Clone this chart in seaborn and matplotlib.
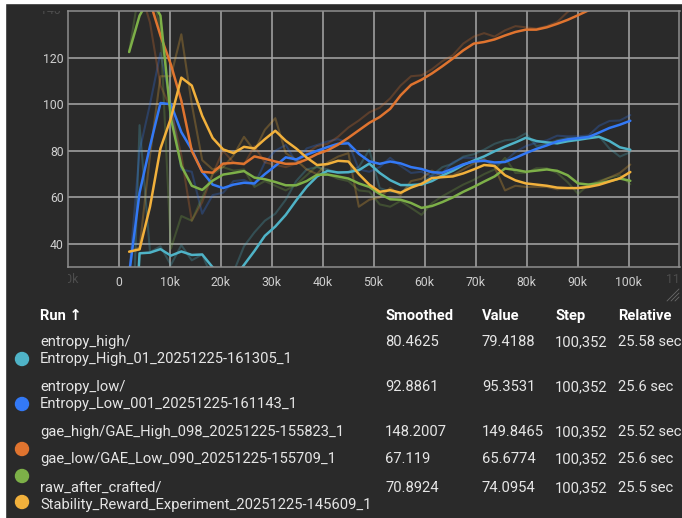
import pandas as pd
import numpy as np
import matplotlib
matplotlib.use('Agg')
import matplotlib.pyplot as plt
import seaborn as sns
from matplotlib.patches import Rectangle, Ellipse
from matplotlib.transforms import Bbox, TransformedBbox

sns.set_style('dark')
plt.rcParams['font.family'] = ['Roboto', 'DejaVu Sans']

# tensorboard export, steps logged every 2048
steps = [2048, 4096, 6144, 8192, 10240, 12288, 14336, 16384, 18432, 20480,
         22528, 24576, 26624, 28672, 30720, 32768, 34816, 36864, 38912, 40960,
         43008, 45056, 47104, 49152, 51200, 53248, 55296, 57344, 59392, 61440,
         63488, 65536, 67584, 69632, 71680, 73728, 75776, 77824, 79872, 81920,
         83968, 86016, 88064, 90112, 92160, 94208, 96256, 98304, 100352]

runs = ['entropy_high', 'entropy_low', 'gae_high', 'gae_low', 'raw_after_crafted']
colors = ['#4fb3c7', '#3379f6', '#e0742f', '#7db048', '#f2b13c']

# smoothed curves
ent_high_s = [-45, 36, 36.3, 37.8, 35, 36.8, 35.3, 35.5, 30, 26,
              25, 31, 37, 43.5, 47.5, 52.5, 58.7, 64.5, 69, 71.4,
              70.7, 70.8, 71.7, 74.5, 70.5, 67.4, 65.3, 65.3, 65.5, 67,
              69.4, 71.4, 73.9, 75.8, 77.6, 79.8, 81.8, 83.6, 85.6, 84.2,
              83.6, 83.2, 84.1, 84.7, 85.4, 86, 84.2, 81.5, 80.46]
ent_low_s = [27, 62, 82, 100.5, 100, 88, 80.5, 71, 65.5, 64,
             65.5, 66.3, 66, 70, 73.5, 77.2, 76.3, 78.3, 80, 81.6,
             83, 83.2, 78.7, 75.5, 74.4, 75.4, 74.6, 73, 72.2, 70.8,
             70.6, 72.3, 74.2, 75.4, 75.7, 75, 75.2, 77, 79, 80.8,
             82.3, 84, 84.9, 85.4, 85.9, 87.8, 89.8, 91.2, 92.89]
gae_high_s = [160, 152, 144, 129.5, 117, 101.5, 80, 71, 70.6, 74.5,
              74.8, 74.4, 77.6, 76.6, 75.4, 74.4, 74.5, 76.3, 78.6, 80.2,
              82.6, 85.6, 88.8, 92, 94.5, 98, 103.8, 108.3, 110.5, 113.2,
              116.3, 119.6, 123.1, 126, 126.7, 127.8, 129.5, 131, 132, 132,
              133, 134.5, 136.2, 138.2, 140.3, 142.5, 144.5, 146.4, 148.2]
gae_low_s = [122.4, 138, 146, 138, 94, 73.5, 65, 63.2, 67.2, 69.8,
             70.5, 71.3, 68.5, 67.8, 66.6, 65.2, 65.2, 67, 69.7, 69.8,
             69, 68.1, 66, 64.5, 61.5, 59.2, 59, 57.6, 55.5, 56.3,
             58, 60, 62.4, 64.5, 66.8, 69, 72.4, 71.8, 71, 71.5,
             72, 71.4, 69.5, 66, 65.5, 66, 67, 68.1, 67.12]
crafted_s = [36.7, 37.7, 56, 81, 94, 111.4, 108, 95, 85.5, 80.6,
             79, 81.7, 81, 85, 88.6, 84.3, 81, 77.1, 73.9, 74.3,
             75.7, 75.4, 70, 65.5, 62.4, 63.1, 62, 64.2, 65.8, 68.3,
             68.7, 69, 70.3, 72, 73.9, 73.5, 69.5, 67.3, 66, 65.5,
             65, 64.2, 64, 64, 64.5, 65.4, 66.8, 68.2, 70.89]

# raw curves
ent_high_r = [-45, 91, 36.5, 39, 31, 39.5, 33, 35.5, 25, 20,
              28, 39, 45, 50, 53, 59, 67, 72, 73, 72,
              70.5, 71, 73, 80.5, 64, 62.5, 62, 65.3, 66, 69.5,
              73, 74.5, 77.5, 78.5, 80.5, 83, 84.5, 85, 87.5, 82,
              83, 84.5, 85.5, 85.5, 86.2, 86.3, 81, 77.5, 79.42]
ent_low_r = [27, 80, 100, 122, 100, 72, 71, 53, 61, 62,
             67, 67.5, 65.3, 75, 80, 82.5, 75, 81, 82.5, 84,
             85, 83.5, 72, 71, 73, 77, 73.5, 70.5, 71, 69,
             70.5, 75, 77, 77, 76, 74, 75.5, 79.5, 82, 83.5,
             84.5, 86.5, 86.2, 86.2, 86.6, 90.7, 92.8, 93, 95.35]
gae_high_r = [160, 150, 135, 108, 98, 78, 50, 58, 70, 80,
              75, 74, 82, 75, 74, 73, 74.5, 79, 82, 83,
              86, 90, 93, 96.5, 98.5, 102.5, 108, 112, 112.4, 115,
              118.5, 121, 126, 129, 130.5, 129, 131.7, 133.5, 133, 132.4,
              133.5, 135.3, 139.6, 142, 143.5, 145, 147, 148.5, 149.85]
gae_low_r = [122.4, 150, 152, 132, 38, 52, 50, 60, 70, 73,
             71.5, 72, 64.5, 67, 65, 63, 65.5, 69.5, 73.5, 70,
             68, 67, 63, 62.5, 57, 56, 58.5, 55.5, 52.5, 57.5,
             60.5, 63, 65.5, 67.5, 70, 72, 77, 70.5, 70.5, 72.5,
             72.5, 70.5, 66.5, 61.5, 65.5, 67, 68.5, 69.5, 65.68]
crafted_r = [36.7, 38.5, 78, 112, 112, 130, 100, 76, 72, 73,
             78, 86, 80, 89, 94, 79, 76, 72, 70, 75,
             77.5, 79, 56, 59, 60, 64, 61, 67, 68, 71.5,
             69, 69.5, 72, 74.5, 76.5, 73, 63, 65, 64.5, 64.5,
             64.5, 63.5, 64, 64, 65, 66.5, 68.5, 70.5, 74.1]

# table under the chart
run_names = [['entropy_high/', 'Entropy_High_01_20251225-161305_1'],
             ['entropy_low/', 'Entropy_Low_001_20251225-161143_1'],
             ['gae_high/GAE_High_098_20251225-155823_1'],
             ['gae_low/GAE_Low_090_20251225-155709_1'],
             ['raw_after_crafted/', 'Stability_Reward_Experiment_20251225-145609_1']]
smoothed_col = ['80.4625', '92.8861', '148.2007', '67.119', '70.8924']
value_col = ['79.4188', '95.3531', '149.8465', '65.6774', '74.0954']
step_col = ['100,352', '100,352', '100,352', '100,352', '100,352']
relative_col = ['25.58 sec', '25.6 sec', '25.52 sec', '25.6 sec', '25.5 sec']

smooth_all = [ent_high_s, ent_low_s, gae_high_s, gae_low_s, crafted_s]
raw_all = [ent_high_r, ent_low_r, gae_high_r, gae_low_r, crafted_r]
df_s = pd.concat([pd.DataFrame({'run': r, 'step': steps, 'value': v}) for r, v in zip(runs, smooth_all)])
df_r = pd.concat([pd.DataFrame({'run': r, 'step': steps, 'value': v}) for r, v in zip(runs, raw_all)])
pal = dict(zip(runs, colors))

W, H = 682, 518
bg = '#2a2a2a'
fig = plt.figure(figsize=(W / 100, H / 100), dpi=100, facecolor=bg)
ax_l, ax_r, ax_t, ax_b = 67.7, 679.5, 11, 267.3
ax = fig.add_axes([ax_l / W, 1 - ax_b / H, (ax_r - ax_l) / W, (ax_b - ax_t) / H])
ax.set_facecolor(bg)

sns.lineplot(data=df_r, x='step', y='value', hue='run', palette=pal, estimator=None,
             linewidth=1.5, alpha=0.27, legend=False, ax=ax)
sns.lineplot(data=df_s, x='step', y='value', hue='run', palette=pal, estimator=None,
             linewidth=1.8, legend=False, ax=ax)

ax.set_xlim(-10000, 110000)
ax.set_ylim(30, 140)
xt = [0, 10000, 20000, 30000, 40000, 50000, 60000, 70000, 80000, 90000, 100000]
ax.set_xticks(xt)
ax.set_xticklabels(['0'] + ['%dk' % (t // 1000) for t in xt[1:]])
ax.set_yticks([40, 60, 80, 100, 120])
ax.tick_params(length=0, labelsize=8.8, labelcolor='#cfcfcf')
ax.tick_params(axis='x', pad=6)
ax.tick_params(axis='y', pad=3)
ax.set_xlabel('')
ax.set_ylabel('')
ax.grid(True, color='#a8a8a8', linewidth=1.1)
for s in ax.spines.values():
    s.set_visible(True)
    s.set_color('#8e8e8e')
    s.set_linewidth(1.1)

# faded edge labels, cut at the plot border
fade = '#4d4d4d'
trx = ax.get_xaxis_transform()
t1 = ax.text(-10000, -0.047, '-10k', transform=trx, ha='center', va='center',
             fontsize=8.8, color=fade)
t1.set_clip_box(TransformedBbox(Bbox.from_extents(ax_l / W, 0, 1, 1), fig.transFigure))
t1.set_clip_on(True)
t2 = ax.text(110000, -0.047, '110k', transform=trx, ha='center', va='center',
             fontsize=8.8, color=fade)
t2.set_clip_box(TransformedBbox(Bbox.from_extents(0, 0, ax_r / W, 1), fig.transFigure))
t2.set_clip_on(True)
t3 = ax.text(-0.012, 140, '140', transform=ax.get_yaxis_transform(), ha='right', va='center',
             fontsize=8.8, color=fade)
t3.set_clip_box(TransformedBbox(Bbox.from_extents(0, 0, 1, 1 - ax_t / H), fig.transFigure))
t3.set_clip_on(True)

# resize grip
for d in [4, 8, 12]:
    fig.add_artist(plt.Line2D([(679 - d) / W, 679 / W], [1 - 301 / H, 1 - (301 - d) / H],
                              color='#6a6a6a', linewidth=0.6))

# table
fs = 10.6
def px(x, y):
    return x / W, 1 - y / H

hdr = [('Run ↑', 40), ('Smoothed', 385), ('Value', 482), ('Step', 555), ('Relative', 618)]
for label, x in hdr:
    fig.text(*px(x, 316), label, fontsize=fs, fontweight='bold', color='white', va='center')

row_y = [342, 387, 432, 459, 488]
dot_y = [359, 404, 449, 476, 502]
for i in range(len(runs)):
    for j, line in enumerate(run_names[i]):
        fig.text(*px(40, row_y[i] + 17 * j), line, fontsize=fs, color='#e6e6e6', va='center')
    fig.text(*px(385, row_y[i]), smoothed_col[i], fontsize=fs, color='#e6e6e6', va='center')
    fig.text(*px(482, row_y[i]), value_col[i], fontsize=fs, color='#e6e6e6', va='center')
    fig.text(*px(555, row_y[i]), step_col[i], fontsize=fs, color='#e6e6e6', va='center')
    fig.text(*px(618, row_y[i]), relative_col[i], fontsize=fs, color='#e6e6e6', va='center')
    fig.add_artist(Ellipse(px(22, dot_y[i]), 13 / W, 13 / H, color=colors[i], transform=fig.transFigure))

# white page margin at top/left edge of the screenshot
fig.add_artist(Rectangle((0, 1 - 3 / H), 1, 3 / H, transform=fig.transFigure, color='white'))
fig.add_artist(Rectangle((0, 0), 5 / W, 1, transform=fig.transFigure, color='white'))

fig.savefig('out.png', dpi=100, facecolor=bg)
